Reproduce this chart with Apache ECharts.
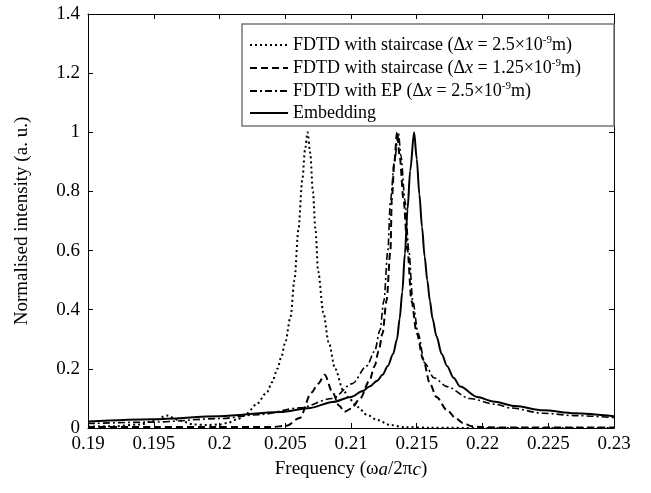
<!DOCTYPE html>
<html>
<head>
<meta charset="utf-8">
<script src="https://cdn.jsdelivr.net/npm/echarts@6/dist/echarts.min.js"></script>
<style>
  html, body { margin: 0; padding: 0; background: #fff; }
  #chart { width: 651px; height: 493px; }
</style>
</head>
<body>
<div id="chart"></div>
<script>
// values
const xTicks = [0.19, 0.23, 0.005];
const yTicks = [0, 1.4, 0.2];

const seriesNames = [
    'stair25',
    'stair125',
    'ep',
    'embed'
];

// FDTD with staircase, dx = 2.5e-9 m (dotted)
const stair25X = [0.190, 0.192, 0.194, 0.195, 0.196, 0.197, 0.198, 0.199, 0.200, 0.2006, 0.2014, 0.2021, 0.2028, 0.2036, 0.2040, 0.2044, 0.2047, 0.2050, 0.2054, 0.2057, 0.2060, 0.2063, 0.2065, 0.2067, 0.2069, 0.2071, 0.2073, 0.2075, 0.2079, 0.2083, 0.2088, 0.2094, 0.2099, 0.2105, 0.2112, 0.2120, 0.2130, 0.2140, 0.216, 0.220, 0.225, 0.230];
const stair25Y = [0.005, 0.006, 0.012, 0.025, 0.042, 0.025, 0.012, 0.01, 0.012, 0.017, 0.03, 0.05, 0.08, 0.12, 0.155, 0.20, 0.24, 0.29, 0.375, 0.50, 0.67, 0.84, 0.94, 1.0, 0.93, 0.80, 0.67, 0.53, 0.39, 0.29, 0.20, 0.128, 0.098, 0.071, 0.045, 0.027, 0.01, 0.003, 0.001, 0, 0, 0];

// FDTD with staircase, dx = 1.25e-9 m (dashed)
const stair125X = [0.190, 0.195, 0.200, 0.204, 0.2051, 0.2061, 0.2070, 0.2075, 0.2080, 0.2086, 0.2091, 0.2095, 0.2100, 0.2107, 0.2114, 0.2118, 0.2121, 0.2124, 0.2127, 0.2130, 0.2131, 0.2133, 0.2135, 0.2137, 0.2140, 0.2143, 0.2146, 0.2150, 0.2155, 0.2160, 0.2165, 0.2173, 0.2180, 0.2185, 0.2192, 0.2200, 0.221, 0.225, 0.230];
const stair125Y = [0.003, 0.003, 0.003, 0.003, 0.008, 0.034, 0.12, 0.15, 0.18, 0.12, 0.075, 0.055, 0.065, 0.1, 0.16, 0.21, 0.26, 0.32, 0.43, 0.60, 0.77, 0.90, 1.0, 0.92, 0.77, 0.60, 0.43, 0.32, 0.23, 0.15, 0.105, 0.06, 0.032, 0.017, 0.006, 0.003, 0.002, 0.002, 0.002];

// FDTD with EP, dx = 2.5e-9 m (dash-dot)
const epX = [0.190, 0.195, 0.200, 0.203, 0.2061, 0.2086, 0.2101, 0.2112, 0.2118, 0.2122, 0.2125, 0.2128, 0.2130, 0.2133, 0.2136, 0.2138, 0.2141, 0.2144, 0.2147, 0.2151, 0.2156, 0.2163, 0.2173, 0.2190, 0.2210, 0.2221, 0.2246, 0.2270, 0.2300];
const epY = [0.015, 0.02, 0.032, 0.045, 0.068, 0.10, 0.15, 0.21, 0.26, 0.33, 0.43, 0.60, 0.77, 0.90, 1.0, 0.92, 0.77, 0.60, 0.43, 0.32, 0.22, 0.17, 0.14, 0.10, 0.08, 0.068, 0.05, 0.042, 0.035];

// Embedding (solid)
const embedX = [0.190, 0.195, 0.200, 0.2046, 0.2069, 0.2086, 0.2100, 0.2109, 0.2114, 0.2120, 0.2124, 0.2128, 0.2132, 0.2135, 0.2137, 0.2139, 0.2141, 0.2143, 0.2145, 0.2148, 0.2150, 0.2152, 0.2154, 0.2156, 0.2158, 0.2160, 0.2162, 0.2165, 0.2169, 0.2173, 0.2178, 0.2183, 0.2196, 0.2208, 0.2225, 0.2246, 0.2270, 0.2300];
const embedY = [0.022, 0.03, 0.04, 0.054, 0.068, 0.088, 0.105, 0.125, 0.14, 0.16, 0.18, 0.21, 0.25, 0.30, 0.37, 0.46, 0.59, 0.74, 0.87, 1.0, 0.91, 0.79, 0.68, 0.58, 0.50, 0.43, 0.37, 0.31, 0.25, 0.21, 0.17, 0.14, 0.105, 0.09, 0.074, 0.06, 0.05, 0.04];

const legendText = {
    stair25: 'FDTD with staircase (Δ{i|x} = 2.5×10{sup|-9}m)',
    stair125: 'FDTD with staircase (Δ{i|x} = 1.25×10{sup|-9}m)',
    ep: 'FDTD with EP (Δ{i|x} = 2.5×10{sup|-9}m)',
    embed: 'Embedding'
};

const FONT = '"Liberation Serif", "DejaVu Serif", serif';

function pairs(xs, ys) {
    return xs.map((x, i) => [x, ys[i]]);
}

const chart = echarts.init(document.getElementById('chart'));

const lineSeries = (name, xs, ys, type, width) => ({
    name: name,
    type: 'line',
    data: pairs(xs, ys),
    showSymbol: false,
    symbol: 'none',
    smooth: 0.3,
    smoothMonotone: 'x',
    lineStyle: { color: '#000', width: width, type: type },
    itemStyle: { color: '#000' },
    z: 2
});

const axisCommon = {
    axisLine: { show: true, onZero: false, lineStyle: { color: '#000', width: 1 } },
    axisTick: { show: true, inside: true, length: 5, lineStyle: { color: '#000' } },
    splitLine: { show: false }
};

chart.setOption({
    animation: false,
    backgroundColor: '#fff',
    grid: { left: 88, right: 37, top: 14, bottom: 65, containLabel: false },
    xAxis: [{
        type: 'value',
        min: xTicks[0], max: xTicks[1], interval: xTicks[2],
        ...axisCommon,
        axisLabel: { color: '#000', fontSize: 19, fontFamily: FONT, margin: 7 },
        name: 'Frequency (ω{i|a}/2π{i|c})',
        nameLocation: 'middle',
        nameGap: 32,
        nameTextStyle: {
            color: '#000', fontSize: 19, fontFamily: FONT,
            rich: { i: { fontStyle: 'italic', fontSize: 19, fontFamily: FONT, color: '#000' } }
        }
    }, {
        type: 'value', position: 'top',
        min: xTicks[0], max: xTicks[1], interval: xTicks[2],
        ...axisCommon,
        axisLabel: { show: false }
    }],
    yAxis: [{
        type: 'value',
        min: yTicks[0], max: yTicks[1], interval: yTicks[2],
        ...axisCommon,
        axisLabel: { color: '#000', fontSize: 19, fontFamily: FONT, margin: 8 },
        name: 'Normalised intensity (a. u.)',
        nameLocation: 'middle',
        nameGap: 56,
        nameTextStyle: { color: '#000', fontSize: 19, fontFamily: FONT }
    }, {
        type: 'value', position: 'right',
        min: yTicks[0], max: yTicks[1], interval: yTicks[2],
        ...axisCommon,
        axisLabel: { show: false }
    }],
    graphic: [{
        type: 'rect',
        z: 3,
        shape: { x: 242, y: 24, width: 372, height: 102 },
        style: { fill: '#fff', stroke: '#777', lineWidth: 1.5 }
    }],
    legend: {
        orient: 'vertical',
        left: 244,
        top: 30,
        z: 5,
        itemWidth: 38,
        itemHeight: 14,
        itemGap: 4,
        data: seriesNames,
        formatter: name => legendText[name],
        itemStyle: { opacity: 0 },
        textStyle: {
            color: '#000', fontSize: 18, fontFamily: FONT,
            rich: {
                i: { fontStyle: 'italic', fontSize: 18, fontFamily: FONT, color: '#000' },
                sup: { fontSize: 11, fontFamily: FONT, color: '#000', padding: [0, 0, 9, 0] }
            }
        }
    },
    series: [
        lineSeries('stair25', stair25X, stair25Y, [2, 3], 2),
        lineSeries('stair125', stair125X, stair125Y, [7, 4], 2),
        lineSeries('ep', epX, epY, [7, 3, 2, 3], 1.6),
        lineSeries('embed', embedX, embedY, 'solid', 2)
    ]
});
</script>
</body>
</html>
